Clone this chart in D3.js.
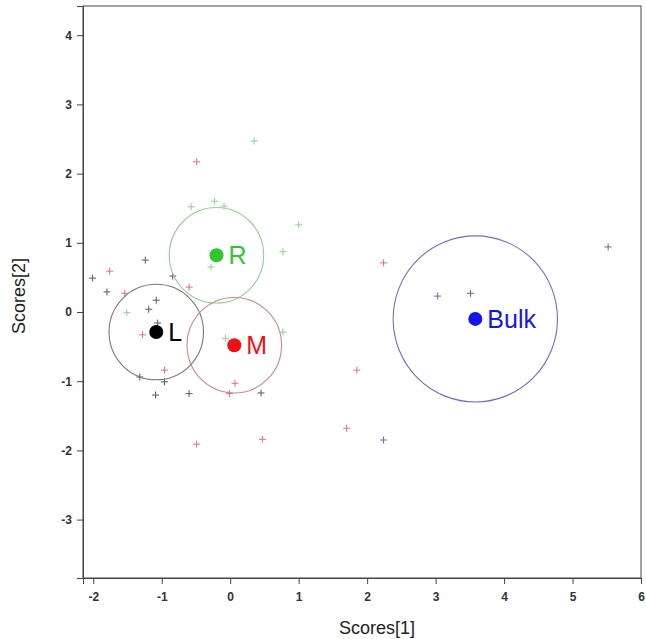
<!DOCTYPE html>
<html>
<head>
<meta charset="utf-8">
<script src="https://cdn.jsdelivr.net/npm/d3@7"></script>
<style>
  html, body { margin: 0; padding: 0; background: #fff; }
  svg { display: block; font-family: "Liberation Sans", Arial, Helvetica, sans-serif; }
</style>
</head>
<body>
<svg id="chart" width="646" height="639"></svg>
<script>
// Score samples per group: [Scores[1], Scores[2]]
const samplesL = [
  [-1.24, 0.75], [-2.01, 0.49], [-1.80, 0.29], [-0.84, 0.52], [-1.08, 0.17],
  [-1.19, 0.04], [-1.06, -0.16], [-1.32, -0.94], [-0.96, -1.01], [-1.09, -1.20],
  [-0.60, -1.18], [0.45, -1.17]
];
const samplesM = [
  [-0.49, 2.17], [-1.76, 0.59], [-0.60, 0.36], [-1.28, -0.33], [-0.96, -0.84],
  [0.07, -1.03], [-0.01, -1.18], [-0.49, -1.91], [0.47, -1.84], [2.24, 0.71],
  [1.85, -0.84], [1.70, -1.68], [-1.54, 0.27]
];
const samplesR = [
  [0.35, 2.47], [-0.57, 1.52], [-0.23, 1.60], [-0.09, 1.53], [1.00, 1.26],
  [0.77, 0.87], [-0.28, 0.65], [0.77, -0.29], [-0.07, -0.38], [-1.51, -0.01]
];
const samplesBulk = [
  [3.03, 0.23], [3.51, 0.27], [5.52, 0.94], [2.24, -1.85]
];

// Group centroids and confidence circle radii (score units)
const groupNames = ["R", "L", "M", "Bulk"];
const centroidX = [-0.20, -1.08, 0.06, 3.58];
const centroidY = [0.82, -0.29, -0.48, -0.10];
const circleRadius = [0.69, 0.69, 0.69, 1.20];

const xTicks = [-2, -1, 0, 1, 2, 3, 4, 5, 6];
const yTicks = [-3, -2, -1, 0, 1, 2, 3, 4];

// Styling per group
const styles = {
  R:    { dot: "#2ec82e", ring: "#90d090", cross: "#8fcf8f" },
  L:    { dot: "#000000", ring: "#7a7a7a", cross: "#5a5a5a" },
  M:    { dot: "#ee1111", ring: "#cc8888", cross: "#e27080" },
  Bulk: { dot: "#1515e8", ring: "#6e6ec4", cross: "#6666b4" }
};

const svg = d3.select("#chart");
const plotLeft = 83, plotRight = 641, plotTop = 6, plotBottom = 578;

const x = d3.scaleLinear().domain([-2.15, 6.0]).range([plotLeft, plotRight]);
const y = d3.scaleLinear().domain([-3.844, 4.422]).range([plotBottom, plotTop]);

// Frame
svg.append("rect")
  .attr("x", plotLeft).attr("y", plotTop)
  .attr("width", plotRight - plotLeft).attr("height", plotBottom - plotTop)
  .attr("fill", "none").attr("stroke", "#444").attr("stroke-width", 1);

// Axes
const xAxis = svg.append("g")
  .attr("transform", `translate(0,${plotBottom})`)
  .call(d3.axisBottom(x).tickValues(xTicks).tickSize(6).tickPadding(8).tickFormat(d3.format("d")));
const yAxis = svg.append("g")
  .attr("transform", `translate(${plotLeft},0)`)
  .call(d3.axisLeft(y).tickValues(yTicks).tickSize(6).tickPadding(5).tickFormat(d3.format("d")));

[xAxis, yAxis].forEach(g => {
  g.select(".domain").attr("stroke", "#444");
  g.selectAll(".tick line").attr("stroke", "#444");
  g.selectAll(".tick text")
    .attr("fill", "#333")
    .style("font-size", "12px")
    .style("font-weight", "bold")
    .style("font-family", "'Liberation Sans', Arial, sans-serif");
});
xAxis.selectAll(".tick text").text(d => d < 0 ? "-" + Math.abs(d) : d);
yAxis.selectAll(".tick text").text(d => d < 0 ? "-" + Math.abs(d) : d);

// Axis titles
svg.append("text")
  .attr("x", (plotLeft + plotRight) / 2 + 15).attr("y", 634)
  .attr("text-anchor", "middle")
  .style("font-size", "18px").attr("fill", "#222")
  .text("Scores[1]");
svg.append("text")
  .attr("transform", `translate(25,${(plotTop + plotBottom) / 2 + 4}) rotate(-90)`)
  .attr("text-anchor", "middle")
  .style("font-size", "18px").attr("fill", "#222")
  .text("Scores[2]");

// Sample crosses
const crossSize = 3.5;
function drawCrosses(data, color) {
  const g = svg.append("g").attr("stroke", color).attr("stroke-width", 1);
  g.selectAll("path").data(data).enter().append("path")
    .attr("d", d => {
      const cx = x(d[0]), cy = y(d[1]);
      return `M${cx - crossSize},${cy}H${cx + crossSize}M${cx},${cy - crossSize}V${cy + crossSize}`;
    });
}
drawCrosses(samplesL, styles.L.cross);
drawCrosses(samplesM, styles.M.cross);
drawCrosses(samplesR, styles.R.cross);
drawCrosses(samplesBulk, styles.Bulk.cross);

// Group circles, centroids and labels
const groups = groupNames.map((name, i) => ({
  name, cx: centroidX[i], cy: centroidY[i], r: circleRadius[i]
}));

svg.append("g").selectAll("ellipse").data(groups).enter().append("ellipse")
  .attr("cx", d => x(d.cx)).attr("cy", d => y(d.cy))
  .attr("rx", d => x(d.cx + d.r) - x(d.cx))
  .attr("ry", d => y(d.cy) - y(d.cy + d.r))
  .attr("fill", "none")
  .attr("stroke", d => styles[d.name].ring)
  .attr("stroke-width", 1.1);

svg.append("g").selectAll("circle").data(groups).enter().append("circle")
  .attr("cx", d => x(d.cx)).attr("cy", d => y(d.cy))
  .attr("r", 7)
  .attr("fill", d => styles[d.name].dot);

svg.append("g").selectAll("text").data(groups).enter().append("text")
  .attr("x", d => x(d.cx) + 12).attr("y", d => y(d.cy) + 9)
  .style("font-size", "25px")
  .attr("fill", d => styles[d.name].dot)
  .text(d => d.name);
</script>
</body>
</html>
